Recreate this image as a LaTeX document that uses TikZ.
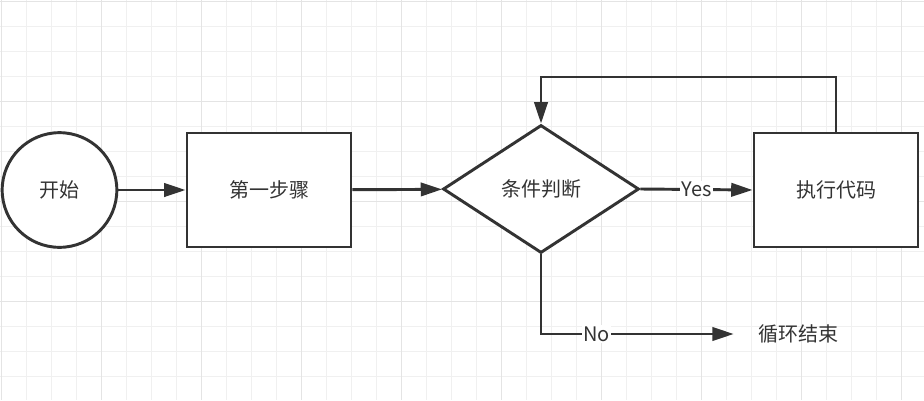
\documentclass[tikz,border=0pt]{standalone}
\usepackage{fontspec}
\setmainfont{Noto Sans CJK SC}
\usepackage{tikz}
\usetikzlibrary{shapes.geometric,arrows.meta}

\definecolor{ink}{HTML}{333333}
\definecolor{gridminor}{HTML}{F0F0F0}
\definecolor{gridmajor}{HTML}{E4E4E4}

\tikzset{
  box/.style={draw=ink,line width=2.2pt,fill=white,minimum width=123pt,minimum height=85.5pt,inner sep=0pt},
  startnode/.style={circle,draw=ink,line width=2.2pt,fill=white,minimum size=86pt,inner sep=0pt},
  decision/.style={diamond,draw=ink,line width=2.2pt,fill=white,aspect=1.53,minimum width=147pt,minimum height=96pt,inner sep=0pt},
  arr/.style={draw=ink,line width=2.2pt,-{Triangle[length=16pt,width=10pt]}},
  lbl/.style={fill=white,inner sep=1pt,text=ink},
}

\begin{document}
\begin{tikzpicture}[x=0.75pt,y=-0.75pt,font=\fontsize{15}{18}\selectfont,text=ink]
          \useasboundingbox (0,0) rectangle (924,400);
          \fill[white] (0,0) rectangle (924,400);
          % grid
          \foreach \i in {0,...,36} \draw[gridminor,line width=0.75pt] ({1.7+25*\i},0)--({1.7+25*\i},400);
          \foreach \j in {0,...,15} \draw[gridminor,line width=0.75pt] (0,{1.7+25*\j})--(924,{1.7+25*\j});
          \foreach \i in {0,...,9} \draw[gridmajor,line width=0.75pt] ({1.7+100*\i},0)--({1.7+100*\i},400);
          \foreach \j in {0,...,3} \draw[gridmajor,line width=0.75pt] (0,{1.7+100*\j})--(924,{1.7+100*\j});

          \node[startnode] (start) at (59.5,190) {开始};
          \node[box] (step1) at (269,190) {第一步骤};
          \node[decision] (cond) at (541,189) {条件判断};
          \node[box] (exec) at (836,190) {执行代码};
          \node[inner xsep=18pt] (done) at (798,334) {循环结束};
          \coordinate (loop) at (541,77);

          \draw[arr] (start)--(step1);
          \draw[arr] (step1)--(cond);
          \draw[arr] (cond.east)-- node[lbl]{Yes} (exec.west);
          \draw[arr] (exec.north) |- (loop) -- (cond.north);
          \draw[arr] (cond.south) |- node[lbl,pos=0.644]{No} (done.west);
        \end{tikzpicture}
\end{document}
